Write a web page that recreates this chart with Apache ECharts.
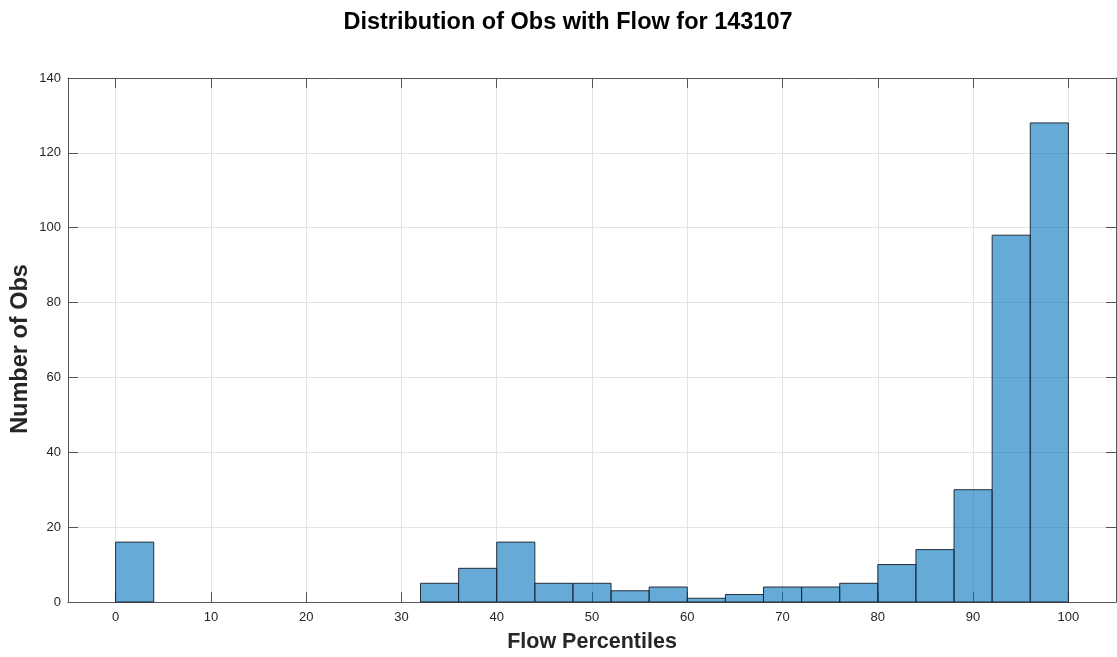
<!DOCTYPE html>
<html>
<head>
<meta charset="utf-8">
<script src="https://cdn.jsdelivr.net/npm/echarts@6/dist/echarts.min.js"></script>
<style>
  html, body { margin: 0; padding: 0; background: #ffffff; }
  #chart { width: 1117px; height: 657px; }
</style>
</head>
<body>
<div id="chart"></div>
<script>
// Histogram bins: left edge of each bin, its count, and the common bin width
const binStarts = [0, 32, 36, 40, 44, 48, 52, 56, 60, 64, 68, 72, 76, 80, 84, 88, 92, 96];
const counts    = [16, 5, 9, 16, 5, 5, 3, 4, 1, 2, 4, 4, 5, 10, 14, 30, 98, 128];
const binWidth  = 4;

// Tick positions on each axis
const xTicks = [0, 10, 20, 30, 40, 50, 60, 70, 80, 90, 100];
const yTicks = [0, 20, 40, 60, 80, 100, 120, 140];

const titleText = 'Distribution of Obs with Flow for 143107';
const xName = 'Flow Percentiles';
const yName = 'Number of Obs';

const FONT = "'Liberation Sans', Arial, Helvetica, sans-serif";
const AXIS_COLOR = '#555555';
const TEXT_COLOR = '#262626';
const GRID_COLOR = '#e3e3e3';

const binData = binStarts.map((s, i) => [s, s + binWidth, counts[i]]);

const chart = echarts.init(document.getElementById('chart'), null, { renderer: 'canvas' });

const baseX = {
  type: 'value',
  min: -5,
  max: 105,
  splitNumber: 11
};
const baseY = {
  type: 'value',
  min: 0,
  max: 140,
  interval: 20
};

const option = {
  animation: false,
  backgroundColor: '#ffffff',
  grid: { left: 68, right: 1, top: 78, bottom: 55, containLabel: false },
  xAxis: [
    Object.assign({}, baseX, {
      position: 'bottom',
      axisLine: { show: true, onZero: false, lineStyle: { color: AXIS_COLOR, width: 1 } },
      axisTick: { show: true, inside: true, length: 10, customValues: xTicks, lineStyle: { color: AXIS_COLOR } },
      axisLabel: { show: true, customValues: xTicks, margin: 9, color: TEXT_COLOR, fontSize: 13, fontFamily: FONT },
      splitLine: { show: true, lineStyle: { color: GRID_COLOR, width: 1 } }
    }),
    Object.assign({}, baseX, {
      position: 'top',
      axisLine: { show: true, onZero: false, lineStyle: { color: AXIS_COLOR, width: 1 } },
      axisTick: { show: true, inside: true, length: 10, customValues: xTicks, lineStyle: { color: AXIS_COLOR } },
      axisLabel: { show: false },
      splitLine: { show: false }
    })
  ],
  yAxis: [
    Object.assign({}, baseY, {
      position: 'left',
      axisLine: { show: true, onZero: false, lineStyle: { color: AXIS_COLOR, width: 1 } },
      axisTick: { show: true, inside: true, length: 10, customValues: yTicks, lineStyle: { color: AXIS_COLOR } },
      axisLabel: { show: true, customValues: yTicks, margin: 7, color: TEXT_COLOR, fontSize: 13, fontFamily: FONT },
      splitLine: { show: true, lineStyle: { color: GRID_COLOR, width: 1 } }
    }),
    Object.assign({}, baseY, {
      position: 'right',
      axisLine: { show: true, onZero: false, lineStyle: { color: AXIS_COLOR, width: 1 } },
      axisTick: { show: true, inside: true, length: 10, customValues: yTicks, lineStyle: { color: AXIS_COLOR } },
      axisLabel: { show: false },
      splitLine: { show: false }
    })
  ],
  graphic: [
    {
      type: 'text', x: 568, y: 23,
      style: { text: titleText, font: `bold 23.5px ${FONT}`, fill: '#000000', align: 'center', verticalAlign: 'middle' }
    },
    {
      type: 'text', x: 592, y: 642,
      style: { text: xName, font: `bold 21.5px ${FONT}`, fill: TEXT_COLOR, align: 'center', verticalAlign: 'middle' }
    },
    {
      type: 'text', x: 21, y: 349, rotation: Math.PI / 2,
      style: { text: yName, font: `bold 23.5px ${FONT}`, fill: TEXT_COLOR, align: 'center', verticalAlign: 'middle' }
    }
  ],
  series: [
    {
      type: 'custom',
      xAxisIndex: 0,
      yAxisIndex: 0,
      data: binData,
      encode: { x: [0, 1], y: 2 },
      renderItem: function (params, api) {
        const topLeft = api.coord([api.value(0), api.value(2)]);
        const bottomRight = api.coord([api.value(1), 0]);
        return {
          type: 'rect',
          shape: {
            x: topLeft[0],
            y: topLeft[1],
            width: bottomRight[0] - topLeft[0],
            height: bottomRight[1] - topLeft[1]
          },
          style: {
            fill: 'rgba(0, 114, 189, 0.6)',
            stroke: 'rgba(30, 38, 48, 0.95)',
            lineWidth: 1
          }
        };
      }
    }
  ]
};

chart.setOption(option);
</script>
</body>
</html>
